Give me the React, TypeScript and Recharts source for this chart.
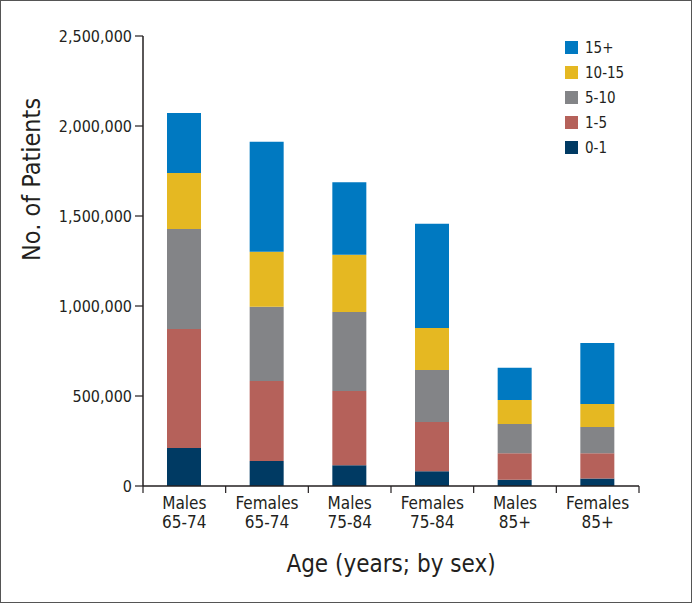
import { BarChart, Bar, XAxis, YAxis } from "recharts";

const groups = [
  ["Males", "65-74"],
  ["Females", "65-74"],
  ["Males", "75-84"],
  ["Females", "75-84"],
  ["Males", "85+"],
  ["Females", "85+"],
];

// patients per bucket (years)
const years0to1 = [211000, 139000, 115000, 82000, 35000, 41000];
const years1to5 = [661000, 444000, 413000, 274000, 147000, 141000];
const years5to10 = [556000, 413000, 439000, 288000, 162000, 146000];
const years10to15 = [311000, 306000, 318000, 234000, 134000, 128000];
const years15plus = [333000, 611000, 402000, 579000, 179000, 338000];

const yTicks = [0, 500000, 1000000, 1500000, 2000000, 2500000];

const series = [
  { key: "b0", name: "0-1", color: "#003a63", values: years0to1 },
  { key: "b1", name: "1-5", color: "#b5615a", values: years1to5 },
  { key: "b5", name: "5-10", color: "#838487", values: years5to10 },
  { key: "b10", name: "10-15", color: "#e5b822", values: years10to15 },
  { key: "b15", name: "15+", color: "#0079c1", values: years15plus },
];

const data = groups.map((g, i) => {
  const row: Record<string, number | string> = { group: g.join("|") };
  series.forEach((s) => {
    row[s.key] = s.values[i];
  });
  return row;
});

const FONT = '"Liberation Sans Narrow", "DejaVu Sans Condensed", "Roboto", sans-serif';
const INK = "#231f20";

function GroupTick(props: any) {
  const { x, y, payload, index, visibleTicksCount } = props;
  const half = payload.offset || 0;
  const [l1, l2] = String(payload.value).split("|");
  const last = index === visibleTicksCount - 1;
  return (
    <g>
      <line x1={x - half} x2={x - half} y1={y - 8} y2={y - 1} stroke={INK} strokeWidth={1.2} />
      {last && (
        <line x1={x + half} x2={x + half} y1={y - 8} y2={y - 1} stroke={INK} strokeWidth={1.2} />
      )}
      <text x={x} y={y} textAnchor="middle" fontFamily={FONT} fontSize={17} fill={INK}>
        <tspan x={x} dy={15}>{l1}</tspan>
        <tspan x={x} dy={19}>{l2}</tspan>
      </text>
    </g>
  );
}

export default function App() {
  return (
    <div
      style={{
        position: "absolute",
        left: 0,
        top: 0,
        width: 692,
        height: 603,
        boxSizing: "border-box",
        border: "1px solid #555",
        background: "#fff",
      }}
    >
      <BarChart
        width={690}
        height={601}
        data={data}
        margin={{ top: 35, right: 52, bottom: 34, left: 0 }}
        barSize={34}
      >
        <XAxis
          dataKey="group"
          tickLine={false}
          axisLine={{ stroke: INK, strokeWidth: 1.5 }}
          height={82}
          interval={0}
          tick={<GroupTick />}
          label={{
            value: "Age (years; by sex)",
            position: "insideBottom",
            offset: -4,
            fontFamily: FONT,
            fontSize: 24,
            fill: INK,
          }}
        />
        <YAxis
          width={142}
          domain={[0, 2500000]}
          ticks={yTicks}
          interval={0}
          tickSize={8}
          tickMargin={3}
          axisLine={{ stroke: INK, strokeWidth: 1.5 }}
          tickLine={{ stroke: INK, strokeWidth: 1.2 }}
          tick={{ fontFamily: FONT, fontSize: 16, fill: INK }}
          tickFormatter={(v: number) => v.toLocaleString("en-US")}
          label={{
            value: "No. of Patients",
            angle: -90,
            position: "insideLeft",
            offset: 30,
            fontFamily: FONT,
            fontSize: 25,
            fill: INK,
          }}
        />
        {series.map((s) => (
          <Bar
            key={s.key}
            dataKey={s.key}
            name={s.name}
            stackId="a"
            fill={s.color}
            isAnimationActive={false}
          />
        ))}
      </BarChart>
      <div style={{ position: "absolute", left: 564, top: 34, fontFamily: FONT, fontSize: 15, color: INK }}>
        {[...series].reverse().map((s) => (
          <div key={s.key} style={{ display: "flex", alignItems: "center", height: 25 }}>
            <span style={{ width: 13, height: 13, background: s.color, marginRight: 7 }} />
            <span>{s.name}</span>
          </div>
        ))}
      </div>
    </div>
  );
}
